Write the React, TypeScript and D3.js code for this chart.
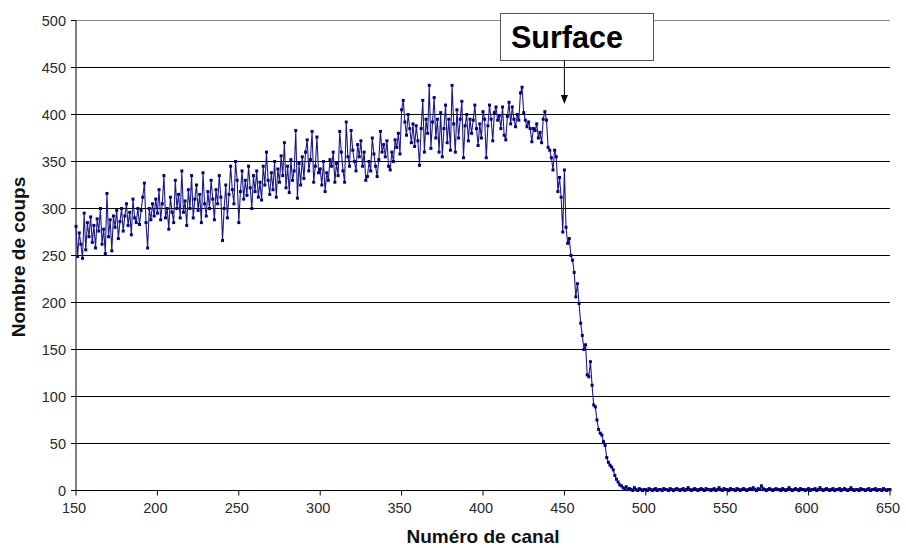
import React from "react";
import * as d3 from "d3";

const firstChannel = 150;
const countsPlateau = [
  281,249,274,262,247,295,256,285,270,291,
  264,282,258,289,276,300,262,278,252,316,
  270,288,255,292,280,298,268,286,300,276,
  292,305,282,296,272,310,290,285,300,283,
  298,312,327,285,258,300,288,305,292,310,
  295,320,288,305,335,290,300,278,312,296,
  285,330,300,315,290,340,296,308,282,320,
  300,335,290,310,325,298,315,285,338,305,
  292,318,300,330,310,288,320,305,335,312,
  266,300,325,290,315,345,320,305,350,330,
  285,318,340,310,330,314,345,322,300,335,
  318,340,312,328,309,345,325,360,330,315,
  338,320,350,312,342,328,356,335,370,322,
  345,317,352,330,340,383,311,348,325,355,
  332,360,373,340,352,382,328,345,376,338,
  342,325,350,318,338,330,352,345,360,328,
  348,335,382,360,340,328,392,355,345,383,
  362,350,340,368,355,372,345,360,330,334,
  350,340,375,358,345,334,352,382,360,368,
  355,372,345,341,360,350,373,365,380,358,
  405,415,392,378,400,385,370,390,366,388,
  372,346,385,415,360,395,380,431,364,392,
  418,375,395,360,402,355,385,410,370,395,
  362,431,390,360,405,375,395,414,354,388,
  400,372,395,380,394,410,385,367,390,375,
  403,395,354,388,410,395,372,402,408,394,
  399,385,408,378,373,398,413,390,408,395,
  387,400,394,423,429,402,394,387,392,385,
  371,385,383,390,375,381,370,395,403,394,
];
const countsEdge = [
  365,362,354,341,362,355,318,333,312,275,
  341,280,263,268,250,245,232,206,220,199,
  178,165,150,155,123,121,137,112,91,89,
  75,65,61,59,52,48,35,30,27,25,
  22,16,12,9,6,5,3,2,4,1,
  2,1,0,3,1,0,2,1,0,1,
];
const countsTail = [
  1,0,2,1,0,1,2,0,1,1,
  0,2,1,1,0,2,1,0,1,2,
  1,0,1,2,0,1,3,1,0,1,
  2,1,0,1,2,1,0,2,1,1,
  0,1,2,0,1,3,1,0,2,1,
  1,0,2,1,1,0,2,1,0,1,
  2,1,0,1,2,1,3,1,0,2,
  1,5,2,1,0,1,2,1,0,1,
  2,1,1,0,2,1,0,1,3,1,
  0,1,2,1,0,2,1,1,0,1,
  2,0,1,1,2,0,1,3,1,0,
  1,2,1,0,1,2,0,1,1,2,
  0,1,2,1,0,1,3,1,0,1,
  1,0,2,1,1,0,1,2,0,1,
  1,2,0,1,1,0,2,1,0,1,
  1,
];
const xTicks = [150, 200, 250, 300, 350, 400, 450, 500, 550, 600, 650];
const yTicks = [0, 50, 100, 150, 200, 250, 300, 350, 400, 450, 500];
const xTitle = "Numéro de canal";
const yTitle = "Nombre de coups";
const annotation = "Surface";
const annotationChannel = 450;

export default function App() {
  const counts = [...countsPlateau, ...countsEdge, ...countsTail];
  const data = counts.map((v, i) => ({ ch: firstChannel + i, v }));
  const x = d3.scaleLinear().domain([150, 650]).range([76, 890]);
  const y = d3.scaleLinear().domain([0, 500]).range([490.5, 20.5]);
  const line = d3
    .line<{ ch: number; v: number }>()
    .x((d) => x(d.ch))
    .y((d) => y(d.v));
  const font = "Arial, 'Liberation Sans', sans-serif";
  const ax = x(annotationChannel);
  return (
    <svg
      width={906}
      height={548}
      style={{ position: "absolute", left: 0, top: 0, background: "#fff" }}
      fontFamily={font}
    >
      <rect x={0} y={0} width={906} height={548} fill="#fff" />
      {yTicks.map((t) => (
        <g key={"y" + t}>
          {t > 0 && (
            <line
              x1={x(150)}
              x2={x(650)}
              y1={y(t)}
              y2={y(t)}
              stroke={t === 500 ? "#8a8a8a" : "#000"}
              strokeWidth={1}
            />
          )}
          <line x1={71} x2={x(150)} y1={y(t)} y2={y(t)} stroke="#000" />
          <text
            x={66}
            y={y(t)}
            dy="0.35em"
            textAnchor="end"
            fontSize={14.5}
            fill="#2a2a2a"
          >
            {t}
          </text>
        </g>
      ))}
      {xTicks.map((t) => (
        <g key={"x" + t}>
          <line x1={x(t)} x2={x(t)} y1={y(0)} y2={y(0) + 5} stroke="#000" />
          <text
            x={x(t) - 2}
            y={513}
            textAnchor="middle"
            fontSize={14.5}
            fill="#2a2a2a"
          >
            {t}
          </text>
        </g>
      ))}
      <line x1={x(150)} x2={x(150)} y1={y(500)} y2={y(0)} stroke="#000" />
      <line x1={x(150)} x2={x(650)} y1={y(0)} y2={y(0)} stroke="#000" />
      <path d={line(data) || ""} fill="none" stroke="#1c1c86" strokeWidth={1.1} />
      {data.map((d) => (
        <rect
          key={d.ch}
          x={x(d.ch) - 1.5}
          y={y(d.v) - 1.5}
          width={3}
          height={3}
          fill="#000080"
        />
      ))}
      <rect x={500.5} y={13.5} width={153} height={47} fill="#fff" stroke="#555" />
      <text x={511} y={48} fontSize={30.5} fontWeight="bold" fill="#000">
        {annotation}
      </text>
      <line x1={ax} x2={ax} y1={60.5} y2={96} stroke="#000" strokeWidth={1} />
      <path
        d={`M${ax - 3.5},${95} L${ax + 3.5},${95} L${ax},${104} Z`}
        fill="#000"
      />
      <text
        x={483}
        y={543}
        textAnchor="middle"
        fontSize={19}
        fontWeight="bold"
        fill="#111"
      >
        {xTitle}
      </text>
      <text
        transform={`translate(25,257) rotate(-90)`}
        textAnchor="middle"
        fontSize={19}
        fontWeight="bold"
        fill="#111"
      >
        {yTitle}
      </text>
    </svg>
  );
}
